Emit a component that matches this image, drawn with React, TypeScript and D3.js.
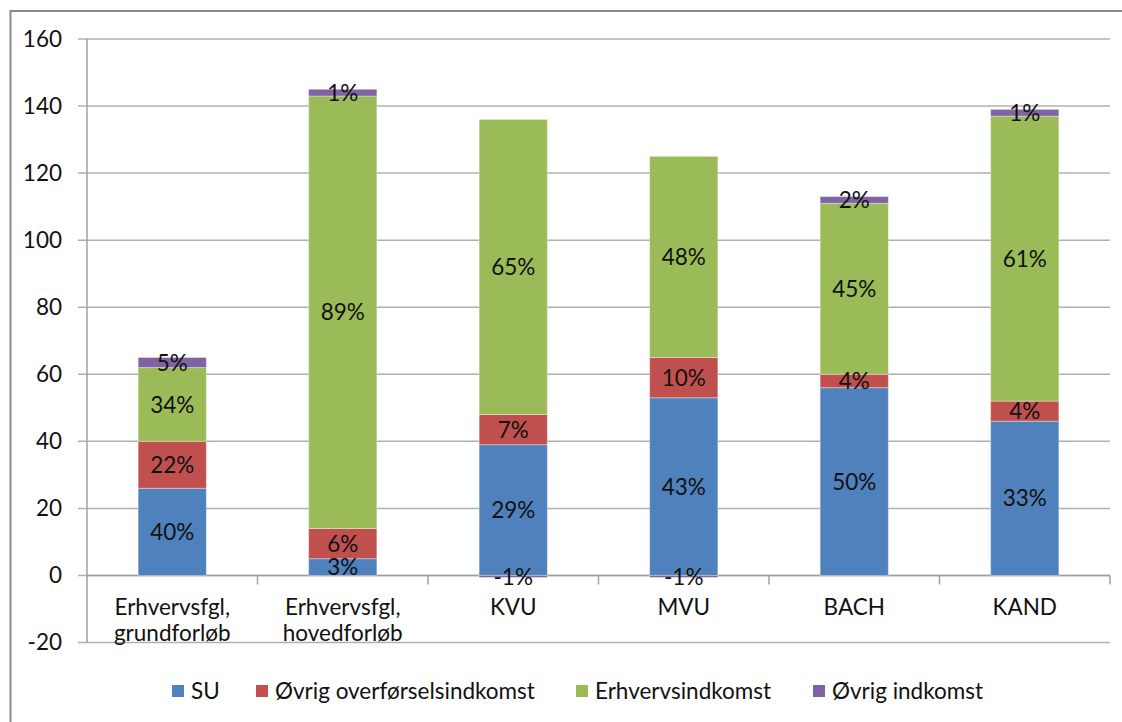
import React from 'react';
import * as d3 from 'd3';

const categories = ['Erhvervsfgl,\ngrundforløb', 'Erhvervsfgl,\nhovedforløb', 'KVU', 'MVU', 'BACH', 'KAND'];
const seriesNames = ['SU', 'Øvrig overførselsindkomst', 'Erhvervsindkomst', 'Øvrig indkomst'];
const colors = ['#4F81BD', '#C0504D', '#9BBB59', '#8064A2'];

const su = [26, 5, 39, 53, 56, 46];
const overforsel = [14, 9, 9, 12, 4, 6];
const erhverv = [22, 129, 88, 60, 51, 85];
const ovrig = [3, 2, -0.6, -0.6, 2, 2];

const suLabels = ['40%', '3%', '29%', '43%', '50%', '33%'];
const overforselLabels = ['22%', '6%', '7%', '10%', '4%', '4%'];
const erhvervLabels = ['34%', '89%', '65%', '48%', '45%', '61%'];
const ovrigLabels = ['5%', '1%', '-1%', '-1%', '2%', '1%'];

const yTicks = [-20, 0, 20, 40, 60, 80, 100, 120, 140, 160];

const W = 1122;
const H = 722;
const FONT = 'Lato, "Liberation Sans", sans-serif';
const FS = 22.5;

export default function App() {
  const left = 87;
  const right = 1110;
  const top = 39;
  const bottom = 642.5;

  const x = d3.scaleBand().domain(categories).range([left, right]).padding(0);
  const y = d3.scaleLinear().domain([-20, 160]).range([bottom, top]);
  const barW = x.bandwidth() * 0.4;

  const values = [su, overforsel, erhverv, ovrig];
  const labels = [suLabels, overforselLabels, erhvervLabels, ovrigLabels];
  const rows = categories.map((c, i) => {
    const r: any = { cat: c };
    seriesNames.forEach((s, k) => (r[s] = values[k][i]));
    return r;
  });
  const stacked = d3.stack().keys(seriesNames).offset(d3.stackOffsetDiverging)(rows);

  const legendX = [172, 256, 576, 813];

  return (
    <svg width={W} height={H} style={{ position: 'absolute', left: 0, top: 0, background: '#fff' }}>
      <rect x={0} y={0} width={W} height={H} fill="#fff" />
      {/* frame */}
      <path d={`M10.5,${H} V11 H${W}`} fill="none" stroke="#8a8a8a" strokeWidth={2} />

      {/* gridlines + y labels */}
      {yTicks.map(t => (
        <g key={t}>
          <line x1={78} x2={right} y1={y(t)} y2={y(t)} stroke="#b0b0b0" strokeWidth={1.5} />
          <text x={62} y={y(t)} dy="0.35em" textAnchor="end" fontFamily={FONT} fontSize={FS} fill="#111">
            {t}
          </text>
        </g>
      ))}
      {/* y axis line */}
      <line x1={left} x2={left} y1={top} y2={bottom} stroke="#a0a0a0" strokeWidth={1.5} />
      {/* x axis at zero */}
      <line x1={left} x2={right} y1={y(0)} y2={y(0)} stroke="#a0a0a0" strokeWidth={1.5} />
      {categories.map((c, i) => (
        <line key={'t' + i} x1={x(c)! + x.bandwidth()} x2={x(c)! + x.bandwidth()} y1={y(0)} y2={y(0) + 9} stroke="#a0a0a0" strokeWidth={1.5} />
      ))}

      {/* bars */}
      {stacked.map((s, k) => (
        <g key={s.key}>
          {s.map((d, i) => {
            const cx = x(categories[i])! + x.bandwidth() / 2;
            const y0 = y(Math.max(d[0], d[1]));
            const y1 = y(Math.min(d[0], d[1]));
            return (
              <rect key={i} x={cx - barW / 2} y={y0} width={barW} height={Math.max(y1 - y0, 0)} fill={colors[k]} stroke="#ffffff" strokeOpacity={0.35} strokeWidth={1} />
            );
          })}
        </g>
      ))}
      {/* labels */}
      {stacked.map((s, k) => (
        <g key={'l' + s.key}>
          {s.map((d, i) => {
            const cx = x(categories[i])! + x.bandwidth() / 2;
            const cy = (y(d[0]) + y(d[1])) / 2;
            return (
              <text key={i} x={cx} y={cy} dy="0.36em" textAnchor="middle" fontFamily={FONT} fontSize={FS} fill="#111">
                {labels[k][i]}
              </text>
            );
          })}
        </g>
      ))}

      {/* category labels */}
      {categories.map((c, i) => {
        const cx = x(c)! + x.bandwidth() / 2;
        const lines = c.split('\n');
        return (
          <text key={'c' + i} x={cx} y={607} textAnchor="middle" fontFamily={FONT} fontSize={FS} fill="#111">
            {lines.map((ln, j) => (
              <tspan key={j} x={cx} dy={j === 0 ? '0.35em' : 26}>
                {ln}
              </tspan>
            ))}
          </text>
        );
      })}

      {/* legend */}
      {seriesNames.map((s, k) => (
        <g key={'lg' + k}>
          <rect x={legendX[k]} y={685} width={12} height={12} fill={colors[k]} />
          <text x={legendX[k] + 19} y={691} dy="0.35em" fontFamily={FONT} fontSize={FS} fill="#111">
            {s}
          </text>
        </g>
      ))}
    </svg>
  );
}
